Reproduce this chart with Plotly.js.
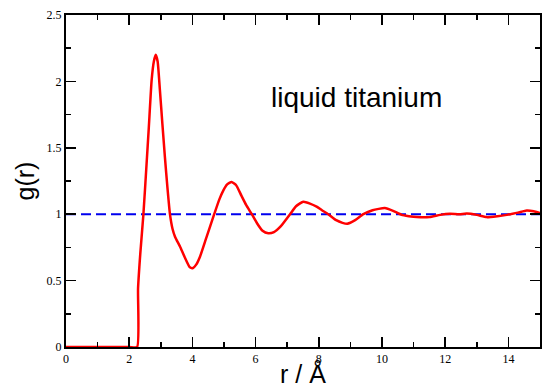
<!DOCTYPE html>
<html>
<head>
<meta charset="utf-8">
<script src="https://cdn.plot.ly/plotly-3.0.1.min.js"></script>
<style>html,body{margin:0;padding:0;background:#fff;}#chart{width:546px;height:388px;}</style>
</head>
<body>
<div id="chart"></div>
<script>
// g(r) of liquid titanium
var r = [0, 1, 2, 2.25, 2.28, 2.35, 2.45, 2.55, 2.62, 2.71, 2.78, 2.84, 2.90, 2.97, 3.05, 3.13, 3.21, 3.29, 3.37, 3.45, 3.61, 3.75, 3.92, 4.02, 4.12, 4.24, 4.45, 4.69, 4.85, 4.98, 5.10, 5.24, 5.38, 5.55, 5.70, 5.88, 6.05, 6.22, 6.40, 6.58, 6.80, 7.09, 7.28, 7.51, 7.72, 7.93, 8.10, 8.30, 8.55, 8.75, 8.90, 9.15, 9.41, 9.70, 10.09, 10.35, 10.62, 10.85, 11.1, 11.5, 11.84, 12.15, 12.45, 12.68, 13.0, 13.31, 13.65, 13.95, 14.3, 14.58, 14.80, 15.0];
var g = [0, 0, 0, 0, 0.44, 0.70, 1.00, 1.38, 1.65, 2.01, 2.15, 2.20, 2.15, 1.94, 1.68, 1.43, 1.20, 1.00, 0.89, 0.83, 0.755, 0.68, 0.60, 0.595, 0.62, 0.68, 0.83, 1.00, 1.11, 1.18, 1.225, 1.243, 1.22, 1.14, 1.07, 1.00, 0.93, 0.875, 0.856, 0.865, 0.91, 1.00, 1.06, 1.094, 1.08, 1.057, 1.03, 1.00, 0.955, 0.935, 0.928, 0.955, 1.00, 1.03, 1.046, 1.025, 0.995, 0.985, 0.978, 0.978, 0.995, 1.003, 1.0, 1.005, 0.995, 0.978, 0.985, 0.995, 1.012, 1.028, 1.022, 1.008];
var refX = [0, 15];
var refY = [1, 1];
var xTicks = [0, 2, 4, 6, 8, 10, 12, 14];
var xTickText = ['0', '2', '4', '6', '8', '10', '12', '14'];
var yTicks = [0, 0.5, 1, 1.5, 2, 2.5];
var yTickText = ['0', '0.5', '1', '1.5', '2', '2.5'];
var label = 'liquid titanium';

var traces = [
  {x: refX, y: refY, mode: 'lines', line: {color: '#0000ee', width: 2, dash: '10px,5px'}, hoverinfo: 'skip'},
  {x: r, y: g, mode: 'lines', line: {color: '#ff0000', width: 2.5, shape: 'spline', smoothing: 0.5}}
];

var axisCommon = {
  showgrid: false, zeroline: false, showline: true, linecolor: '#000', linewidth: 2,
  mirror: 'ticks', ticks: 'inside', ticklen: 10, tickwidth: 1.5, tickcolor: '#000',
  tickfont: {family: 'Liberation Serif, Times New Roman, serif', size: 12, color: '#000'}
};

var layout = {
  width: 546, height: 388,
  margin: {l: 66, r: 6, t: 15, b: 41},
  paper_bgcolor: '#fff', plot_bgcolor: '#fff',
  showlegend: false,
  xaxis: Object.assign({}, axisCommon, {
    range: [0, 15], tickmode: 'array', tickvals: xTicks, ticktext: xTickText,
    minor: {dtick: 1, ticks: 'inside', ticklen: 5, tickwidth: 1.5, tickcolor: '#000'},
    title: {text: 'r / Å', font: {family: 'Liberation Sans, Arial, sans-serif', size: 25, color: '#000'}, standoff: 0}
  }),
  yaxis: Object.assign({}, axisCommon, {
    range: [0, 2.5], tickmode: 'array', tickvals: yTicks, ticktext: yTickText,
    minor: {dtick: 0.25, ticks: 'inside', ticklen: 5, tickwidth: 1.5, tickcolor: '#000'},
    title: {text: 'g(r)', font: {family: 'Liberation Sans, Arial, sans-serif', size: 25, color: '#000'}, standoff: 5}
  }),
  annotations: [{
    text: label, xref: 'x', yref: 'y', x: 9.18, y: 1.88, showarrow: false,
    xanchor: 'center', yanchor: 'middle',
    font: {family: 'Liberation Sans, Arial, sans-serif', size: 28, color: '#000'}
  }]
};

Plotly.newPlot('chart', traces, layout, {displayModeBar: false, staticPlot: true});
</script>
</body>
</html>
